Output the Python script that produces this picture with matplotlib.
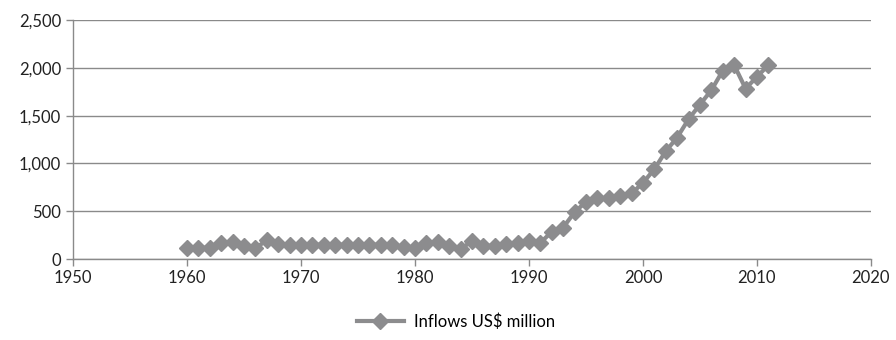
import matplotlib
matplotlib.use("Agg")
import matplotlib.pyplot as plt
from matplotlib.ticker import FuncFormatter, MultipleLocator

plt.rcParams['font.family'] = ['Lato', 'DejaVu Sans']

years = list(range(1960, 2012))
inflows = [118, 118, 118, 164, 181, 136, 112, 199, 157, 150,
           150, 150, 150, 150, 150, 150, 150, 150, 150, 122,
           112, 164, 181, 136, 101, 192, 139, 139, 153, 171,
           188, 171, 285, 330, 490, 599, 634, 634, 658, 686,
           797, 940, 1128, 1271, 1463, 1616, 1766, 1970, 2030, 1784,
           1905, 2030]

grey = '#8c8c8e'
axis_grey = '#8a8a8a'

fig = plt.figure(figsize=(8.96, 3.4), dpi=100)
ax = fig.add_axes([0.0815, 0.238, 0.8905, 0.703])

ax.plot(years, inflows, color=grey, lw=3, marker='D', markersize=8,
        markeredgecolor=grey, markerfacecolor=grey, label='Inflows US$ million')

ax.set_xlim(1950, 2020)
ax.set_ylim(0, 2500)
ax.xaxis.set_major_locator(MultipleLocator(10))
ax.yaxis.set_major_locator(MultipleLocator(500))
ax.yaxis.set_major_formatter(FuncFormatter(lambda v, p: f'{int(v):,}'))

ax.grid(axis='y', color=axis_grey, lw=1)
ax.set_axisbelow(True)
for side in ('top', 'right'):
    ax.spines[side].set_visible(False)
for side in ('left', 'bottom'):
    ax.spines[side].set_color(axis_grey)
    ax.spines[side].set_linewidth(1)
ax.tick_params(axis='both', colors=axis_grey, labelcolor='#222222',
               labelsize=12, length=5, width=1)
ax.tick_params(axis='x', pad=3)

ax.legend(loc='upper center', bbox_to_anchor=(0.48, -0.165), frameon=False,
          fontsize=12, handlelength=2.8, handletextpad=0.6)

fig.savefig('out.png', dpi=100)
